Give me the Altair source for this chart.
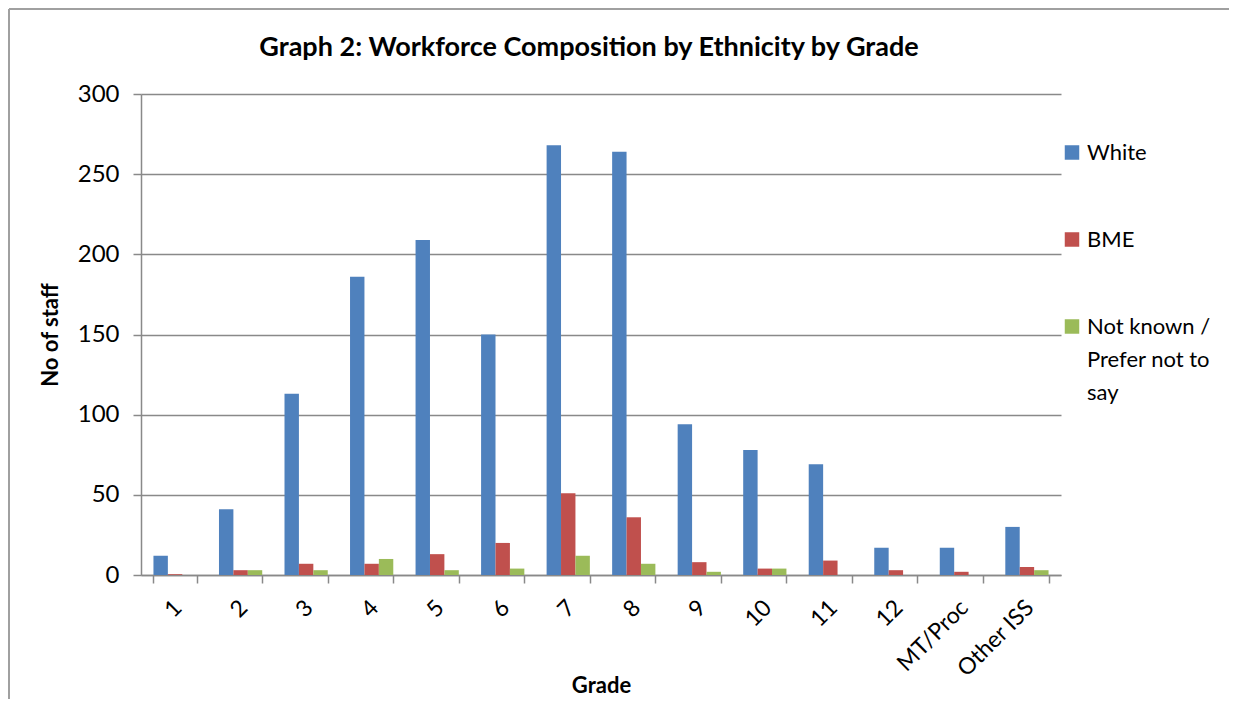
import altair as alt
import pandas as pd

# ---- data ----
grades = ["1", "2", "3", "4", "5", "6", "7", "8", "9", "10", "11", "12", "MT/Proc", "Other ISS"]
series_names = ["White", "BME", "Not known / Prefer not to say"]
white = [12, 41, 113, 186, 209, 150, 268, 264, 94, 78, 69, 17, 17, 30]
bme = [0.5, 3, 7, 7, 13, 20, 51, 36, 8, 4, 9, 3, 2, 5]
not_known = [0, 3, 3, 10, 3, 4, 12, 7, 2, 4, 0, 0, 0, 3]
colors = ["#4F81BD", "#C0504D", "#9BBB59"]
y_ticks = [0, 50, 100, 150, 200, 250, 300]

rows = []
for name, vals in zip(series_names, [white, bme, not_known]):
    for g, v in zip(grades, vals):
        rows.append({"Grade": g, "Series": name, "Staff": v})
df = pd.DataFrame(rows)

# ---- layout ----
W, H = 920, 481
PAD_L, PAD_T, PAD_R, PAD_B = 133, 86, 168, 124
TOTAL_W = PAD_L + W + PAD_R
TOTAL_H = PAD_T + H + PAD_B
FONT = "Lato"
GRAY = "#898989"
FRAME = "#a0a0a0"

# outer chart border: only its top and left edges are on the page
one = pd.DataFrame({"k": [0]})
frame_top = alt.Chart(one).mark_rule(stroke=FRAME, strokeWidth=2).encode(
    x=alt.value(-PAD_L + 1), x2=alt.value(TOTAL_W - PAD_L), y=alt.value(-PAD_T + 1),
)
frame_left = alt.Chart(one).mark_rule(stroke=FRAME, strokeWidth=2).encode(
    x=alt.value(-PAD_L + 1), y=alt.value(-PAD_T + 1), y2=alt.value(TOTAL_H - PAD_T),
)

multi_label = ("datum.label == 'Not known / Prefer not to say' ? "
               "['Not known /', 'Prefer not to', 'say'] : datum.label")

bars = alt.Chart(df).mark_bar().encode(
    x=alt.X(
        "Grade:N", sort=grades, title="Grade",
        scale=alt.Scale(paddingInner=0.34, paddingOuter=0.19),
        axis=alt.Axis(
            labelAngle=-45, tickBand="extent", grid=False,
            labelFont=FONT, labelFontSize=23, labelColor="black",
            labelPadding=13, labelOffset=-5,
            tickSize=8, tickColor=GRAY, tickWidth=1.5,
            domainColor=GRAY, domainWidth=1.5,
            titleFont=FONT, titleFontSize=22, titleFontWeight="bold", titleColor="black",
            titleY=110, titleBaseline="middle",
        ),
    ),
    xOffset=alt.XOffset("Series:N", sort=series_names,
                        scale=alt.Scale(paddingInner=0, paddingOuter=0)),
    y=alt.Y(
        "Staff:Q", title="No of staff",
        scale=alt.Scale(domain=[0, 300], nice=False),
        axis=alt.Axis(
            values=y_ticks, grid=True, gridColor=GRAY, gridWidth=1.5,
            labelFont=FONT, labelFontSize=24, labelColor="black", labelPadding=14,
            tickSize=8, tickColor=GRAY, tickWidth=1.5,
            domainColor=GRAY, domainWidth=1.5,
            titleFont=FONT, titleFontSize=22, titleFontWeight="bold", titleColor="black",
            titleX=-91, titleY=H / 2, titleAlign="center", titleBaseline="middle",
        ),
    ),
    color=alt.Color(
        "Series:N", sort=series_names,
        scale=alt.Scale(domain=series_names, range=colors),
        legend=alt.Legend(
            title=None, orient="none", legendX=920, legendY=38,
            symbolType="M-1,0.31L1,0.31L1,2.31L-1,2.31Z", symbolSize=210,
            symbolStrokeWidth=0,
            labelFont=FONT, labelFontSize=22, labelColor="black",
            labelBaseline="top", labelOffset=4, labelLimit=250,
            labelExpr=multi_label, rowPadding=55, padding=0,
        ),
    ),
)

chart = alt.layer(frame_top, frame_left, bars).properties(
    width=W, height=H,
    autosize=alt.AutoSizeParams(type="none"),
    padding={"left": PAD_L, "top": PAD_T, "right": PAD_R, "bottom": PAD_B},
    title=alt.TitleParams(
        text="Graph 2: Workforce Composition by Ethnicity by Grade",
        font=FONT, fontSize=27, fontWeight="bold", color="black",
        anchor="middle", dx=-12, offset=-54,
    ),
).configure(
    font=FONT,
    style={"guide-label": {"lineHeight": 33}},
).configure_view(stroke=None)

chart.save("out.html", embed_options={"renderer": "svg", "actions": False})
